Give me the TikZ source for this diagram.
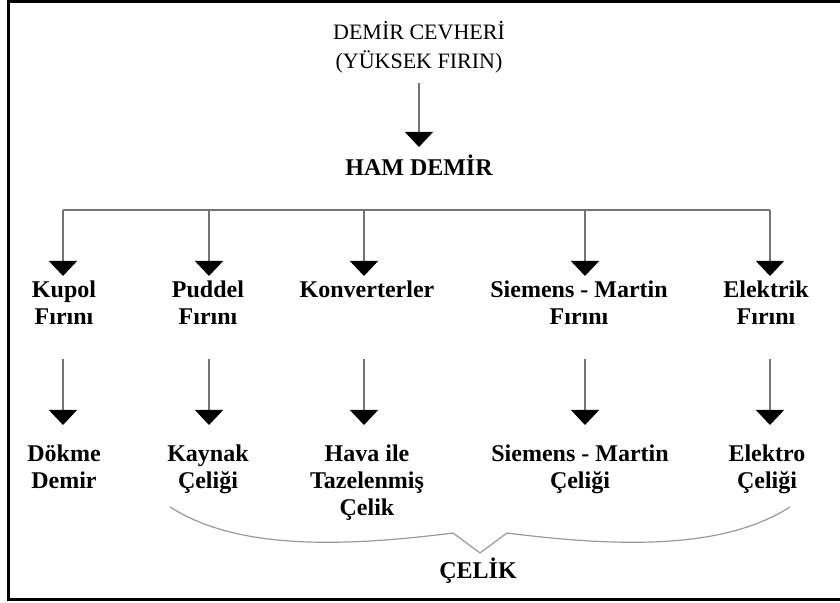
\documentclass[tikz,border=0pt]{standalone}
\usepackage{fontspec}
\setmainfont{Liberation Serif}
\usetikzlibrary{arrows.meta}

\begin{document}
\begin{tikzpicture}[
    x = 0.5pt, y = -0.5pt,
    font = \fontsize{12}{13.5}\selectfont\bfseries
  ]

  \useasboundingbox (0,0) rectangle (840,603);
  \clip (0,0) rectangle (840,603);

  \tikzstyle {every node} = [color = black, inner sep = 0, align = center, anchor = north]
  \tikzstyle {every path} = [color = black!55, line width = 0.65pt]
  \tikzstyle {arr} = [-{Triangle[width = 14pt, length = 7.5pt, color = black]}]
  \tikzstyle {ttl} = [font = \fontsize{11}{14.5}\selectfont]
  \tikzstyle {frame} = [color = black, line width = 1.25pt]
  \tikzstyle {brace} = [color = black!40, line width = 0.6pt]

  % frame, open on the right
  \draw [frame] (850,1.3) -- (8.7,1.3) -- (8.7,599.5) -- (850,599.5);

  \node [ttl] (0) at (419,21) {DEMİR CEVHERİ\\(YÜKSEK FIRIN)};
  \node (1) at (419,154.6) {HAM DEMİR};

  \node (2) at (64,280.5) {Kupol\\Fırını};
  \node (3) at (208,280.5) {Puddel\\Fırını};
  \node (4) at (367,280.5) {Konverterler};
  \node (5) at (579,280.5) {Siemens - Martin\\Fırını};
  \node (6) at (766,280.5) {Elektrik\\Fırını};

  \node (7) at (64,444) {Dökme\\Demir};
  \node (8) at (208,444) {Kaynak\\Çeliği};
  \node (9) at (367,444) {Hava ile\\Tazelenmiş\\Çelik};
  \node (10) at (580,444) {Siemens - Martin\\Çeliği};
  \node (11) at (767,444) {Elektro\\Çeliği};

  \node (12) at (478,557.6) {ÇELİK};

  \coordinate (b2) at (63,210);
  \coordinate (b3) at (209,210);
  \coordinate (b4) at (364,210);
  \coordinate (b5) at (585,210);
  \coordinate (b6) at (770,210);

  \coordinate (c7) at (63,359);
  \coordinate (c8) at (209,359);
  \coordinate (c9) at (364,359);
  \coordinate (c10) at (585,359);
  \coordinate (c11) at (770,359);

  \draw [arr, shorten <= 4.65pt, shorten >= 3.8pt] (0) -- (1);

  \draw (b2) -- (b6);
  \draw [arr, shorten >= 2.25pt] (b2) -- (b2 |- 2.north);
  \draw [arr, shorten >= 2.25pt] (b3) -- (b3 |- 3.north);
  \draw [arr, shorten >= 2.25pt] (b4) -- (b4 |- 4.north);
  \draw [arr, shorten >= 2.25pt] (b5) -- (b5 |- 5.north);
  \draw [arr, shorten >= 2.25pt] (b6) -- (b6 |- 6.north);

  \draw [arr, shorten >= 9.5pt] (c7) -- (c7 |- 7.north);
  \draw [arr, shorten >= 9.5pt] (c8) -- (c8 |- 8.north);
  \draw [arr, shorten >= 9.5pt] (c9) -- (c9 |- 9.north);
  \draw [arr, shorten >= 9.5pt] (c10) -- (c10 |- 10.north);
  \draw [arr, shorten >= 9.5pt] (c11) -- (c11 |- 11.north);

  % brace over the steels
  \draw [brace] (170,507) .. controls (230,545) and (320,550) .. (453,533)
    -- (480,553) -- (507,533) .. controls (640,550) and (730,545) .. (790,507);
\end{tikzpicture}
\end{document}
